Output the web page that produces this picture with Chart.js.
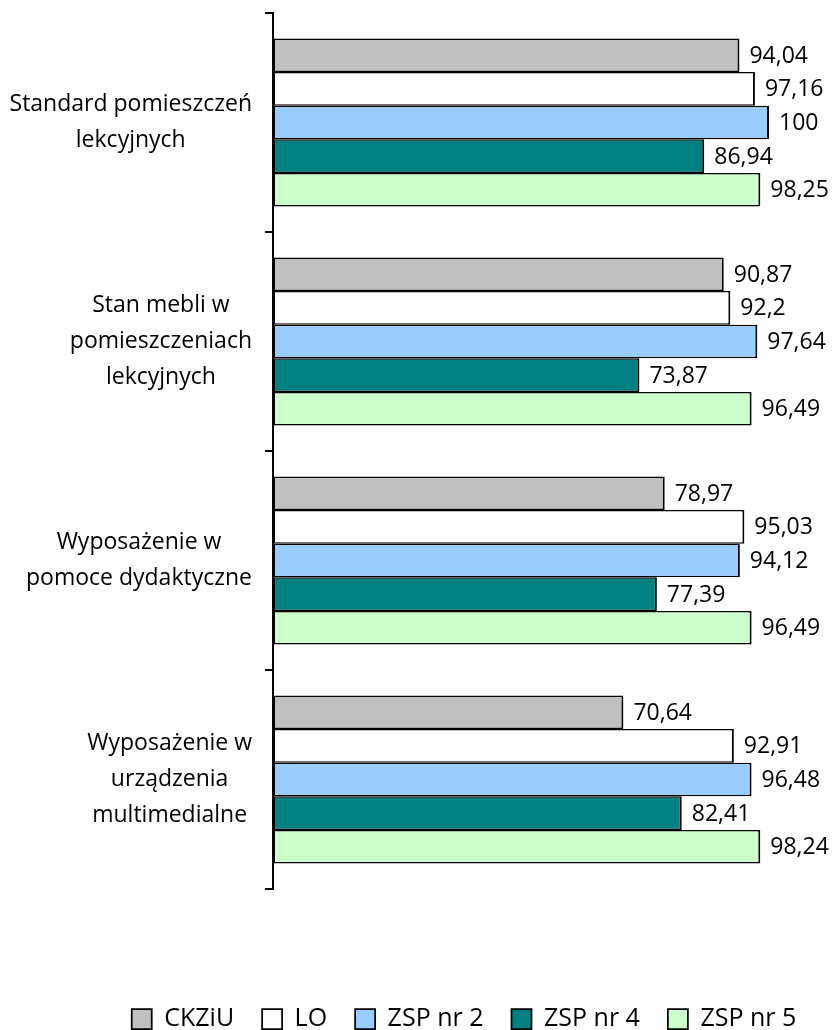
<!DOCTYPE html>
<html>
<head>
<meta charset="utf-8">
<script src="https://cdn.jsdelivr.net/npm/chart.js@4"></script>
<style>
  body { margin: 0; background: #fff; }
  #wrap { width: 834px; height: 1030px; position: relative; }
</style>
</head>
<body>
<div id="wrap"><canvas id="chart"></canvas></div>
<script>
const categories = [
    ['Standard pomieszczeń', 'lekcyjnych'],
    ['Stan mebli w', 'pomieszczeniach', 'lekcyjnych'],
    ['Wyposażenie w', 'pomoce dydaktyczne'],
    ['Wyposażenie w', 'urządzenia', 'multimedialne']
];
const seriesNames = ['CKZiU', 'LO', 'ZSP nr 2', 'ZSP nr 4', 'ZSP nr 5'];
const ckziu = [94.04, 90.87, 78.97, 70.64];
const lo = [97.16, 92.2, 95.03, 92.91];
const zsp2 = [100, 97.64, 94.12, 96.48];
const zsp4 = [86.94, 73.87, 77.39, 82.41];
const zsp5 = [98.25, 96.49, 96.49, 98.24];
const colors = ['#C0C0C0', '#FFFFFF', '#99CCFF', '#008080', '#CCFFCC'];

const FONT = "'Open Sans', sans-serif";
const AXIS_X = 273;
const PAD_LEFT = 94;
// scale runs past 100 so that 100 lands where the reference has it
const X_MAX = 113.1;

// category labels: each block centred line by line, block right edge near the axis
const catLabels = {
    id: 'catLabels',
    afterDraw(chart) {
        const ctx = chart.ctx;
        const yScale = chart.scales.y;
        const right = chart.chartArea.left - 21;
        const lh = 36;
        ctx.save();
        ctx.font = '23px ' + FONT;
        ctx.fillStyle = '#000';
        ctx.textAlign = 'center';
        ctx.textBaseline = 'middle';
        categories.forEach((lines, i) => {
            const widest = Math.max(...lines.map(l => ctx.measureText(l).width));
            const cx = right - widest / 2;
            const cy = yScale.getPixelForValue(i);
            lines.forEach((l, j) => {
                ctx.fillText(l, cx, cy + (j - (lines.length - 1) / 2) * lh);
            });
        });
        ctx.restore();
    }
};

// value labels to the right of every bar
const valueLabels = {
    id: 'valueLabels',
    afterDatasetsDraw(chart) {
        const ctx = chart.ctx;
        ctx.save();
        ctx.font = '23px ' + FONT;
        ctx.fillStyle = '#000';
        ctx.textAlign = 'left';
        ctx.textBaseline = 'middle';
        chart.data.datasets.forEach((ds, di) => {
            chart.getDatasetMeta(di).data.forEach((bar, i) => {
                const txt = String(ds.data[i]).replace('.', ',');
                ctx.fillText(txt, bar.x + 10, bar.y + 1);
            });
        });
        ctx.restore();
    }
};

const allSeries = [ckziu, lo, zsp2, zsp4, zsp5];

new Chart(document.getElementById('chart'), {
    type: 'bar',
    data: {
        labels: categories.map(c => c.join(' ')),
        datasets: allSeries.map((vals, i) => ({
            label: seriesNames[i],
            data: vals,
            backgroundColor: colors[i],
            borderColor: '#000',
            borderWidth: { top: 1.5, bottom: 1.5, left: 2, right: 2 },
            borderSkipped: false,
            categoryPercentage: 0.767,
            barPercentage: 1
        }))
    },
    options: {
        indexAxis: 'y',
        responsive: true,
        maintainAspectRatio: false,
        animation: false,
        layout: { padding: { top: 13, right: 0, bottom: -11.5, left: PAD_LEFT } },
        scales: {
            x: {
                min: 0,
                max: X_MAX,
                display: true,
                ticks: { display: false },
                grid: { display: false },
                border: { display: false },
                afterFit: s => { s.height = 89.5; }
            },
            y: {
                ticks: { display: false },
                grid: {
                    display: true,
                    drawOnChartArea: false,
                    drawTicks: true,
                    tickLength: 8,
                    color: '#000',
                    lineWidth: 2
                },
                border: { display: true, color: '#000', width: 2 },
                afterFit: s => { s.width = AXIS_X - PAD_LEFT; }
            }
        },
        plugins: {
            tooltip: { enabled: false },
            legend: {
                position: 'bottom',
                labels: {
                    boxWidth: 20,
                    boxHeight: 20,
                    padding: 28,
                    color: '#000',
                    font: { family: FONT, size: 25 }
                }
            }
        }
    },
    plugins: [catLabels, valueLabels]
});
</script>
</body>
</html>
